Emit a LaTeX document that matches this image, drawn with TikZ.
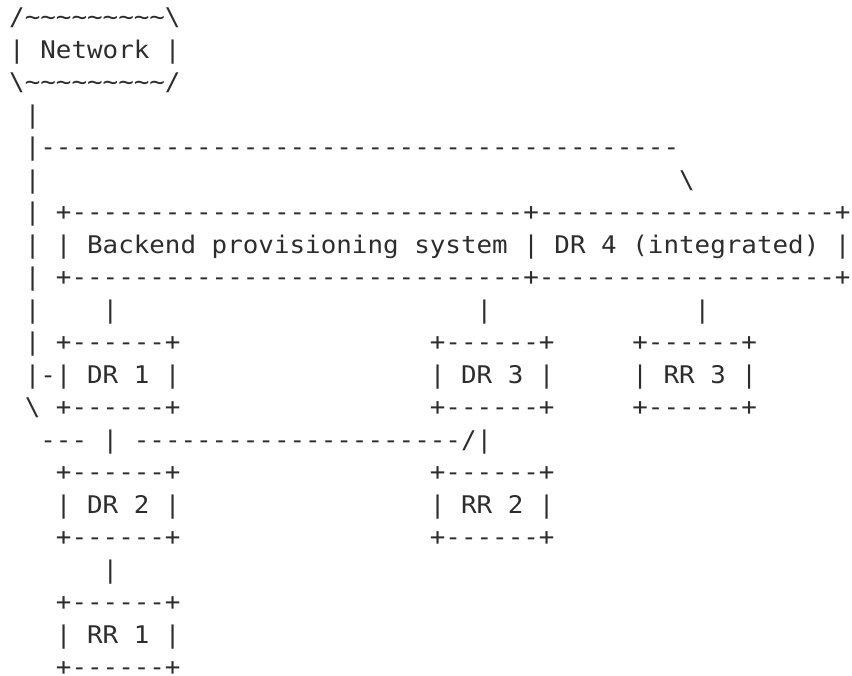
\documentclass[tikz,border=0pt]{standalone}
\usepackage{fontspec}
\setmonofont[FakeStretch=1.065]{DejaVu Sans Mono}
\definecolor{ink}{RGB}{45,45,45}
\newcommand\tl{\textasciitilde}
\newcommand\bs{\textbackslash}
\newcommand\seg[4]{\node[seg] (#1) at ({9.2+15.58*#3},{25.8+32.5*(#2-1)}) {#4};}
\tikzset{seg/.style={anchor=base west,inner sep=0pt,outer sep=0pt,text=ink,
  text depth=0pt,font=\ttfamily\fontsize{24.3}{30}\selectfont}}
\begin{document}
\begin{tikzpicture}[x=1pt,y=-1pt]
\useasboundingbox (0,0) rectangle (852,676);
% Network cloud
\seg{r1}{1}{0}{/\tl\tl\tl\tl\tl\tl\tl\tl\tl\bs}
\seg{r2}{2}{0}{| Network |}
\seg{r3}{3}{0}{\bs\tl\tl\tl\tl\tl\tl\tl\tl\tl/}
\seg{r4}{4}{1}{|}
\seg{r5}{5}{1}{|-----------------------------------------}
\seg{r6a}{6}{1}{|}
\seg{r6b}{6}{43}{\bs}
% backend system / DR 4 box
\seg{r7a}{7}{1}{|}
\seg{r7b}{7}{3}{+-----------------------------+-------------------+}
\seg{r8a}{8}{1}{|}
\seg{r8b}{8}{3}{| Backend provisioning system | DR 4 (integrated) |}
\seg{r9a}{9}{1}{|}
\seg{r9b}{9}{3}{+-----------------------------+-------------------+}
\seg{r10a}{10}{1}{|}
\seg{r10b}{10}{6}{|}
\seg{r10c}{10}{30}{|}
\seg{r10d}{10}{44}{|}
% DR 1, DR 3, RR 3
\seg{r11a}{11}{1}{|}
\seg{r11b}{11}{3}{+------+}
\seg{r11c}{11}{27}{+------+}
\seg{r11d}{11}{40}{+------+}
\seg{r12a}{12}{1}{|-| DR 1 |}
\seg{r12b}{12}{27}{| DR 3 |}
\seg{r12c}{12}{40}{| RR 3 |}
\seg{r13a}{13}{1}{\bs}
\seg{r13b}{13}{3}{+------+}
\seg{r13c}{13}{27}{+------+}
\seg{r13d}{13}{40}{+------+}
\seg{r14a}{14}{2}{---}
\seg{r14b}{14}{6}{|}
\seg{r14c}{14}{8}{---------------------/}
\seg{r14d}{14}{30}{|}
% DR 2, RR 2
\seg{r15a}{15}{3}{+------+}
\seg{r15b}{15}{27}{+------+}
\seg{r16a}{16}{3}{| DR 2 |}
\seg{r16b}{16}{27}{| RR 2 |}
\seg{r17a}{17}{3}{+------+}
\seg{r17b}{17}{27}{+------+}
\seg{r18}{18}{6}{|}
% RR 1
\seg{r19}{19}{3}{+------+}
\seg{r20}{20}{3}{| RR 1 |}
\seg{r21}{21}{3}{+------+}
\end{tikzpicture}
\end{document}
